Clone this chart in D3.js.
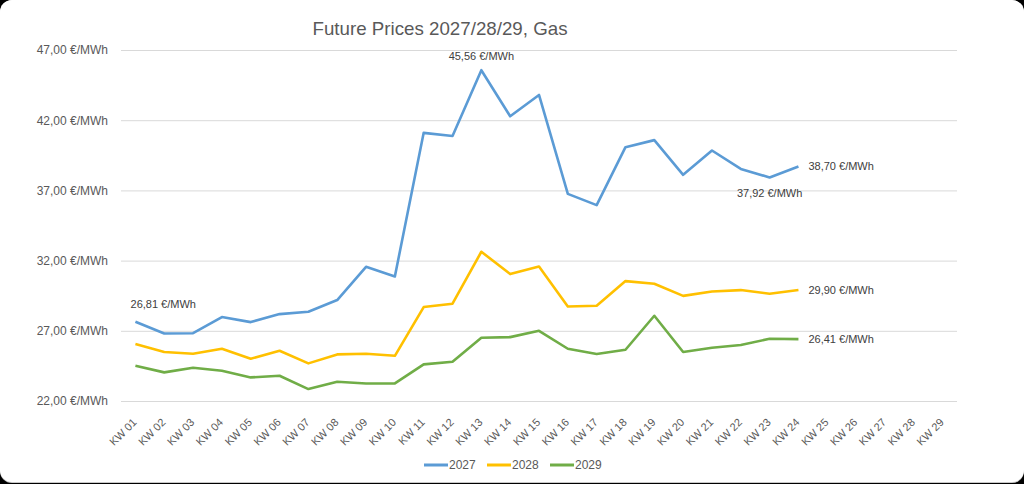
<!DOCTYPE html>
<html>
<head>
<meta charset="utf-8">
<script src="https://cdn.jsdelivr.net/npm/d3@7"></script>
<style>
  html, body { margin: 0; padding: 0; background: #000; }
  svg { display: block; font-family: "Liberation Sans", Arial, sans-serif; }
</style>
</head>
<body>
<div id="chart"></div>
<script>
// Categories (calendar weeks) and series values
const weeks = ["KW 01","KW 02","KW 03","KW 04","KW 05","KW 06","KW 07","KW 08","KW 09","KW 10",
               "KW 11","KW 12","KW 13","KW 14","KW 15","KW 16","KW 17","KW 18","KW 19","KW 20",
               "KW 21","KW 22","KW 23","KW 24","KW 25","KW 26","KW 27","KW 28","KW 29"];

const seriesNames = ["2027", "2028", "2029"];

const values2027 = [27.64, 26.81, 26.83, 27.98, 27.62, 28.19, 28.36, 29.19, 31.56, 30.87,
                    41.10, 40.88, 45.56, 42.28, 43.80, 36.75, 35.95, 40.08, 40.58, 38.11,
                    39.84, 38.53, 37.92, 38.70];
const values2028 = [26.06, 25.49, 25.37, 25.72, 25.01, 25.58, 24.68, 25.32, 25.37, 25.22,
                    28.69, 28.93, 32.63, 31.04, 31.58, 28.73, 28.78, 30.54, 30.35, 29.49,
                    29.80, 29.90, 29.64, 29.90];
const values2029 = [24.51, 24.04, 24.37, 24.16, 23.68, 23.80, 22.85, 23.37, 23.25, 23.25,
                    24.61, 24.80, 26.51, 26.55, 27.00, 25.72, 25.35, 25.65, 28.07, 25.49,
                    25.79, 25.99, 26.43, 26.41];

const yTicks = [22, 27, 32, 37, 42, 47];

// Data labels: [series index, week index]
const labelPoints = [[0, 1], [0, 12], [0, 22], [0, 23], [1, 23], [2, 23]];

const colors = ["#5B9BD5", "#FFC000", "#70AD47"];
const allSeries = [values2027, values2028, values2029];

const width = 1024;
const height = 484;
const plot = { left: 121, right: 957, top: 50, bottom: 401 };

const de = d3.formatLocale({ decimal: ",", thousands: ".", grouping: [3], currency: ["", " €"] });
const fmt = v => de.format(".2f")(v) + " €/MWh";

const svg = d3.select("#chart")
    .append("svg")
    .attr("width", width)
    .attr("height", height);

// Card background
svg.append("rect")
    .attr("x", 0).attr("y", 0)
    .attr("width", width).attr("height", 483)
    .attr("rx", 12)
    .attr("fill", "#c8c8c8");
svg.append("rect")
    .attr("x", 0).attr("y", 0)
    .attr("width", width).attr("height", 482)
    .attr("rx", 12)
    .attr("fill", "#ffffff");

const x = d3.scaleBand()
    .domain(weeks)
    .range([plot.left, plot.right]);

const y = d3.scaleLinear()
    .domain([22, 47])
    .range([plot.bottom, plot.top]);

// Y axis with gridlines
const yAxis = svg.append("g")
    .attr("transform", `translate(${plot.left},0)`)
    .call(d3.axisLeft(y)
        .tickValues(yTicks)
        .tickSize(-(plot.right - plot.left))
        .tickPadding(13)
        .tickFormat(fmt));
yAxis.select(".domain").remove();
yAxis.selectAll(".tick line").attr("stroke", "#d9d9d9").attr("stroke-width", 1);
yAxis.selectAll(".tick text")
    .attr("fill", "#595959")
    .style("font-size", "12px");

// X axis labels, rotated
const xAxis = svg.append("g")
    .attr("transform", `translate(0,${plot.bottom})`)
    .call(d3.axisBottom(x).tickSize(0).tickPadding(0));
xAxis.select(".domain").remove();
xAxis.selectAll(".tick text")
    .attr("fill", "#595959")
    .style("font-size", "11px")
    .attr("text-anchor", "end")
    .attr("dy", 0)
    .attr("transform", "translate(2,22) rotate(-45)");

// Lines
const line = d3.line()
    .x((d, i) => x(weeks[i]) + x.bandwidth() / 2)
    .y(d => y(d));

svg.append("g")
    .selectAll("path")
    .data(allSeries)
    .enter().append("path")
    .attr("d", line)
    .attr("fill", "none")
    .attr("stroke", (d, i) => colors[i])
    .attr("stroke-width", 2.6)
    .attr("stroke-linejoin", "round");

// Data labels
svg.append("g")
    .selectAll("text")
    .data(labelPoints)
    .enter().append("text")
    .each(function([s, i]) {
        const cx = x(weeks[i]) + x.bandwidth() / 2;
        const cy = y(allSeries[s][i]);
        const t = d3.select(this).text(fmt(allSeries[s][i]));
        if (i === weeks.indexOf("KW 24") - 0 && i === allSeries[s].length - 1) {
            t.attr("x", cx + 10).attr("y", cy).attr("dy", "0.35em").attr("text-anchor", "start");
        } else if (s === 0 && i === 22) {
            t.attr("x", cx).attr("y", cy + 20).attr("text-anchor", "middle");
        } else if (s === 0 && i === 1) {
            t.attr("x", cx - 1).attr("y", cy - 25).attr("text-anchor", "middle");
        } else {
            t.attr("x", cx).attr("y", cy - 10).attr("text-anchor", "middle");
        }
    })
    .attr("fill", "#404040")
    .style("font-size", "11px");

// Title
svg.append("text")
    .attr("x", 440)
    .attr("y", 35)
    .attr("text-anchor", "middle")
    .attr("fill", "#595959")
    .attr("textLength", 255)
    .attr("lengthAdjust", "spacingAndGlyphs")
    .style("font-size", "18.5px")
    .text("Future Prices 2027/28/29, Gas");

// Legend
const legend = svg.append("g")
    .attr("transform", "translate(424,465)");

const item = legend.selectAll("g")
    .data(seriesNames)
    .enter().append("g")
    .attr("transform", (d, i) => `translate(${i * 63},0)`);

item.append("line")
    .attr("x1", 0).attr("x2", 24)
    .attr("y1", 0).attr("y2", 0)
    .attr("stroke", (d, i) => colors[i])
    .attr("stroke-width", 3);

item.append("text")
    .attr("x", 25)
    .attr("y", 0)
    .attr("dy", "0.35em")
    .attr("fill", "#595959")
    .style("font-size", "12px")
    .text(d => d);
</script>
</body>
</html>
